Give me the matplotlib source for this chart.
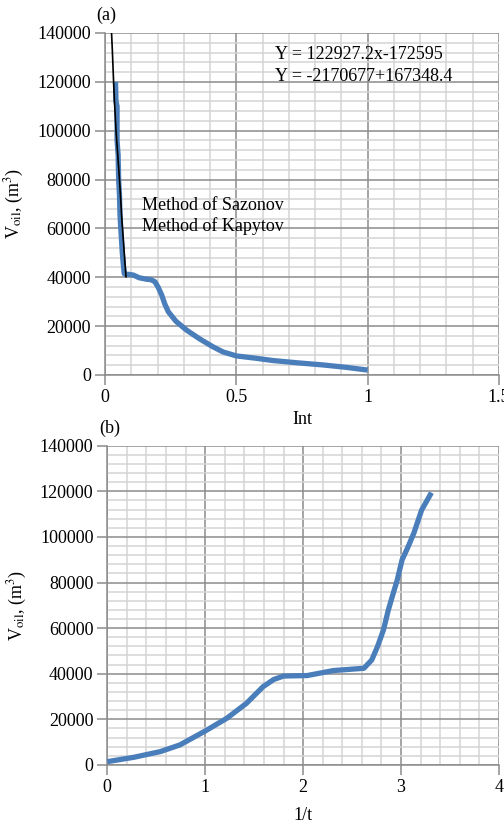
import numpy as np
import matplotlib
matplotlib.use("Agg")
import matplotlib.pyplot as plt
from matplotlib.ticker import MultipleLocator

plt.rcParams['font.family'] = ['Liberation Serif', 'DejaVu Serif']
plt.rcParams['font.size'] = 13
plt.rcParams['mathtext.fontset'] = 'stix'

# panel (a): V_oil vs Int
int_x = [0.040, 0.042, 0.046, 0.046, 0.050, 0.052, 0.055, 0.057, 0.060, 0.063, 0.066, 0.070, 0.073, 0.076,
         0.090, 0.108, 0.130, 0.158, 0.175, 0.190, 0.203, 0.216, 0.228, 0.241, 0.27, 0.31,
         0.36, 0.41, 0.45, 0.50, 0.57, 0.64, 0.73, 0.83, 0.92, 1.0]
int_v = [120000, 112000, 110000, 96000, 90000, 80000, 74000, 66000, 60000, 55000, 49800, 45000, 41600, 41200,
         41200, 40900, 39800, 39200, 39000, 38200, 35800, 32700, 29000, 25900, 22000, 18400,
         14800, 11600, 9400, 7800, 6900, 5900, 5000, 4100, 3100, 2000]

# trend line (black) on panel (a)
trend_x = [0.025, 0.028, 0.032, 0.036, 0.042, 0.050, 0.057, 0.064, 0.070, 0.076, 0.080]
trend_v = [140000, 133000, 122100, 112000, 100000, 88000, 77100, 64000, 55000, 46000, 40200]

# panel (b): V_oil vs 1/t
inv_t = [0.0, 0.27, 0.54, 0.74, 1.0, 1.22, 1.42, 1.59, 1.70, 1.80, 2.04, 2.31, 2.62, 2.70,
         2.76, 2.82, 2.87, 2.92, 2.96, 3.01, 3.07, 3.13, 3.21, 3.31]
inv_v = [1460, 3360, 5850, 8770, 14900, 20460, 27000, 34300, 37500, 39000, 39200, 41400, 42400, 46000,
         52000, 59200, 68000, 75300, 81000, 89900, 95500, 101600, 111800, 119400]

blue = '#4a7ebb'

fig = plt.figure(figsize=(5.04, 8.27), dpi=100)
ax1 = fig.add_axes([0.2083, 0.5466, 0.7817, 0.4135])
ax2 = fig.add_axes([0.2129, 0.075, 0.7772, 0.3861])


def style(ax, xmax, xmaj, xmin):
    ax.set_xlim(0, xmax)
    ax.set_ylim(0, 140000)
    ax.xaxis.set_major_locator(MultipleLocator(xmaj))
    ax.xaxis.set_minor_locator(MultipleLocator(xmin))
    ax.yaxis.set_major_locator(MultipleLocator(20000))
    ax.yaxis.set_minor_locator(MultipleLocator(4000))
    ax.grid(which='minor', color='#d4d4d4', lw=1.1)
    ax.grid(which='major', color='#8c8c8c', lw=1.1)
    ax.set_axisbelow(True)
    for s in ['top', 'right']:
        ax.spines[s].set_visible(False)
    for s in ['left', 'bottom']:
        ax.spines[s].set_color('#8c8c8c')
        ax.spines[s].set_linewidth(1.1)
    ax.tick_params(which='major', length=7, width=1.1, color='#8c8c8c', pad=3)
    ax.tick_params(which='minor', length=0)
    ax.set_ylabel(r'V$_{\rm oil}$, (m$^{3}$)', labelpad=8)


style(ax1, 1.5, 0.5, 0.1)
ax1.xaxis.set_major_formatter(plt.FuncFormatter(lambda v, p: '%g' % v))
ax1.plot(int_x, int_v, color=blue, lw=3.8, solid_capstyle='butt', zorder=3)
ax1.plot(trend_x, trend_v, color='black', lw=1.2, zorder=4)
ax1.set_xlabel('Int', labelpad=4)
ax1.text(0.431, 0.936, 'Y = 122927.2x-172595', transform=ax1.transAxes, va='center')
ax1.text(0.431, 0.872, 'Y = -2170677+167348.4', transform=ax1.transAxes, va='center')
ax1.text(0.093, 0.497, 'Method of Sazonov', transform=ax1.transAxes, va='center')
ax1.text(0.093, 0.434, 'Method of Kapytov', transform=ax1.transAxes, va='center')
fig.text(106 / 504, 1 - 15 / 827, '(a)', ha='center', va='center')

style(ax2, 4, 1, 0.2)
ax2.plot(inv_t, inv_v, color=blue, lw=3.8, solid_capstyle='butt', zorder=3)
ax2.set_xlabel('1/t', labelpad=8)
fig.text(110 / 504, 1 - 428 / 827, '(b)', ha='center', va='center')

fig.savefig('out.png', dpi=100)
